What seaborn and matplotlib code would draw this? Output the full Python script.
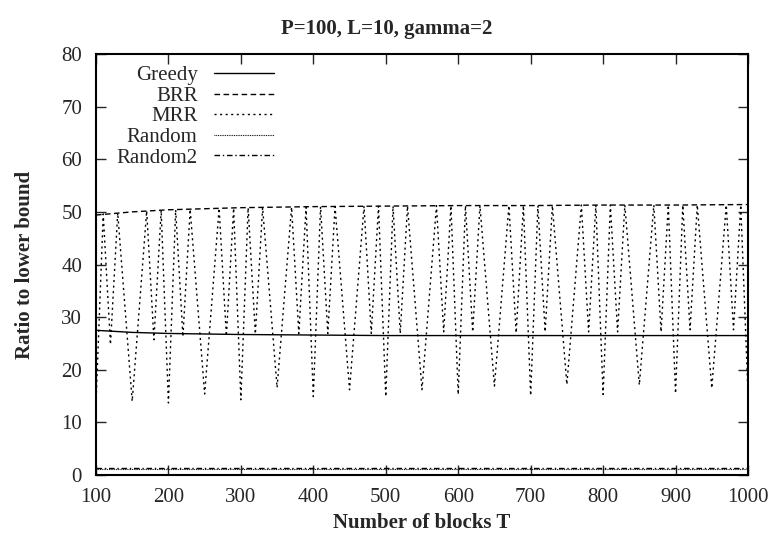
import numpy as np
import pandas as pd
import seaborn as sns
import matplotlib
matplotlib.use("Agg")
import matplotlib.pyplot as plt

# --- data ---
T_smooth = [100, 150, 200, 250, 300, 400, 500, 600, 700, 800, 900, 1000]
greedy = [27.5, 27.1, 26.9, 26.8, 26.7, 26.6, 26.5, 26.5, 26.5, 26.5, 26.5, 26.5]
brr = [49.4, 50.0, 50.4, 50.6, 50.8, 51.0, 51.1, 51.2, 51.2, 51.3, 51.3, 51.4]
rand1 = [1.2, 1.2, 1.2, 1.2, 1.2, 1.2, 1.2, 1.2, 1.2, 1.2, 1.2, 1.2]
rand2 = [1.3, 1.3, 1.3, 1.3, 1.3, 1.3, 1.3, 1.3, 1.3, 1.3, 1.3, 1.3]

# MRR turning points (zig-zag)
T_mrr = [100, 110, 120, 130, 150, 170, 180, 190,
         200, 210, 220, 230, 250, 270, 280, 290,
         300, 310, 320, 330, 350, 370, 380, 390,
         400, 410, 420, 430, 450, 470, 480, 490,
         500, 510, 520, 530, 550, 570, 580, 590,
         600, 610, 620, 630, 650, 670, 680, 690,
         700, 710, 720, 730, 750, 770, 780, 790,
         800, 810, 820, 830, 850, 870, 880, 890,
         900, 910, 920, 930, 950, 970, 980, 990,
         1000]
mrr = [13.5, 49.6, 24.8, 49.8, 14.0, 50.2, 25.7, 50.3,
       13.7, 50.4, 26.3, 50.5, 15.4, 50.7, 26.4, 50.7,
       14.3, 50.8, 26.8, 50.8, 16.6, 50.9, 26.9, 50.9,
       14.9, 51.0, 26.9, 51.0, 16.2, 51.1, 26.9, 51.1,
       14.9, 51.1, 26.9, 51.1, 16.2, 51.2, 27.2, 51.2,
       15.3, 51.2, 27.2, 51.2, 16.9, 51.2, 27.0, 51.2,
       15.1, 51.2, 27.2, 51.2, 17.2, 51.3, 27.2, 51.3,
       15.3, 51.3, 27.2, 51.3, 17.1, 51.3, 27.2, 51.3,
       15.5, 51.3, 27.6, 51.3, 16.5, 51.3, 27.6, 51.3,
       15.6]

x_ticks = [100, 200, 300, 400, 500, 600, 700, 800, 900, 1000]
y_ticks = [0, 10, 20, 30, 40, 50, 60, 70, 80]

sns.set_style("ticks")
plt.rcParams['font.family'] = ['Liberation Serif', 'DejaVu Serif']
plt.rcParams['font.size'] = 15

fig = plt.figure(figsize=(7.74, 5.39), dpi=100)
ax = fig.add_axes([0.124, 0.1187, 0.8424, 0.7811])

sns.lineplot(x=T_smooth, y=greedy, ax=ax, color="black", lw=1.0,
             linestyle="-", label="Greedy", estimator=None)
sns.lineplot(x=T_smooth, y=brr, ax=ax, color="black", lw=1.0,
             linestyle=(0, (4, 2.5)), label="BRR", estimator=None)
sns.lineplot(x=T_mrr, y=mrr, ax=ax, color="black", lw=1.0,
             linestyle=(0, (1.5, 2.5)), label="MRR", estimator=None)
sns.lineplot(x=T_smooth, y=rand1, ax=ax, color="black", lw=0.8,
             linestyle=(0, (0.8, 0.8)), label="Random", estimator=None)
sns.lineplot(x=T_smooth, y=rand2, ax=ax, color="black", lw=1.0,
             linestyle=(0, (4, 2, 1, 2)), label="Random2", estimator=None)

ax.set_xlim(100, 1000)
ax.set_ylim(0, 80)
ax.set_xticks(x_ticks)
ax.set_yticks(y_ticks)
ax.tick_params(direction="in", length=7, width=1, top=True, right=True,
               labelsize=15)
ax.tick_params(axis="x", pad=9)
ax.tick_params(axis="y", pad=10)
for s in ax.spines.values():
    s.set_linewidth(1.5)
    s.set_color("black")

ax.set_xlabel("Number of blocks T", fontsize=15, fontweight="bold", labelpad=5)
ax.set_ylabel("Ratio to lower bound", fontsize=15, fontweight="bold", labelpad=19)
fig.suptitle("P=100, L=10, gamma=2", fontsize=15, fontweight="bold", y=0.964)

ax.legend(loc="upper left", frameon=False, markerfirst=False, fontsize=15,
          handlelength=2.85, handletextpad=0.8, labelspacing=0.05,
          borderaxespad=0.3, bbox_to_anchor=(0.009, 1.007))

fig.savefig("out.png", dpi=100)
